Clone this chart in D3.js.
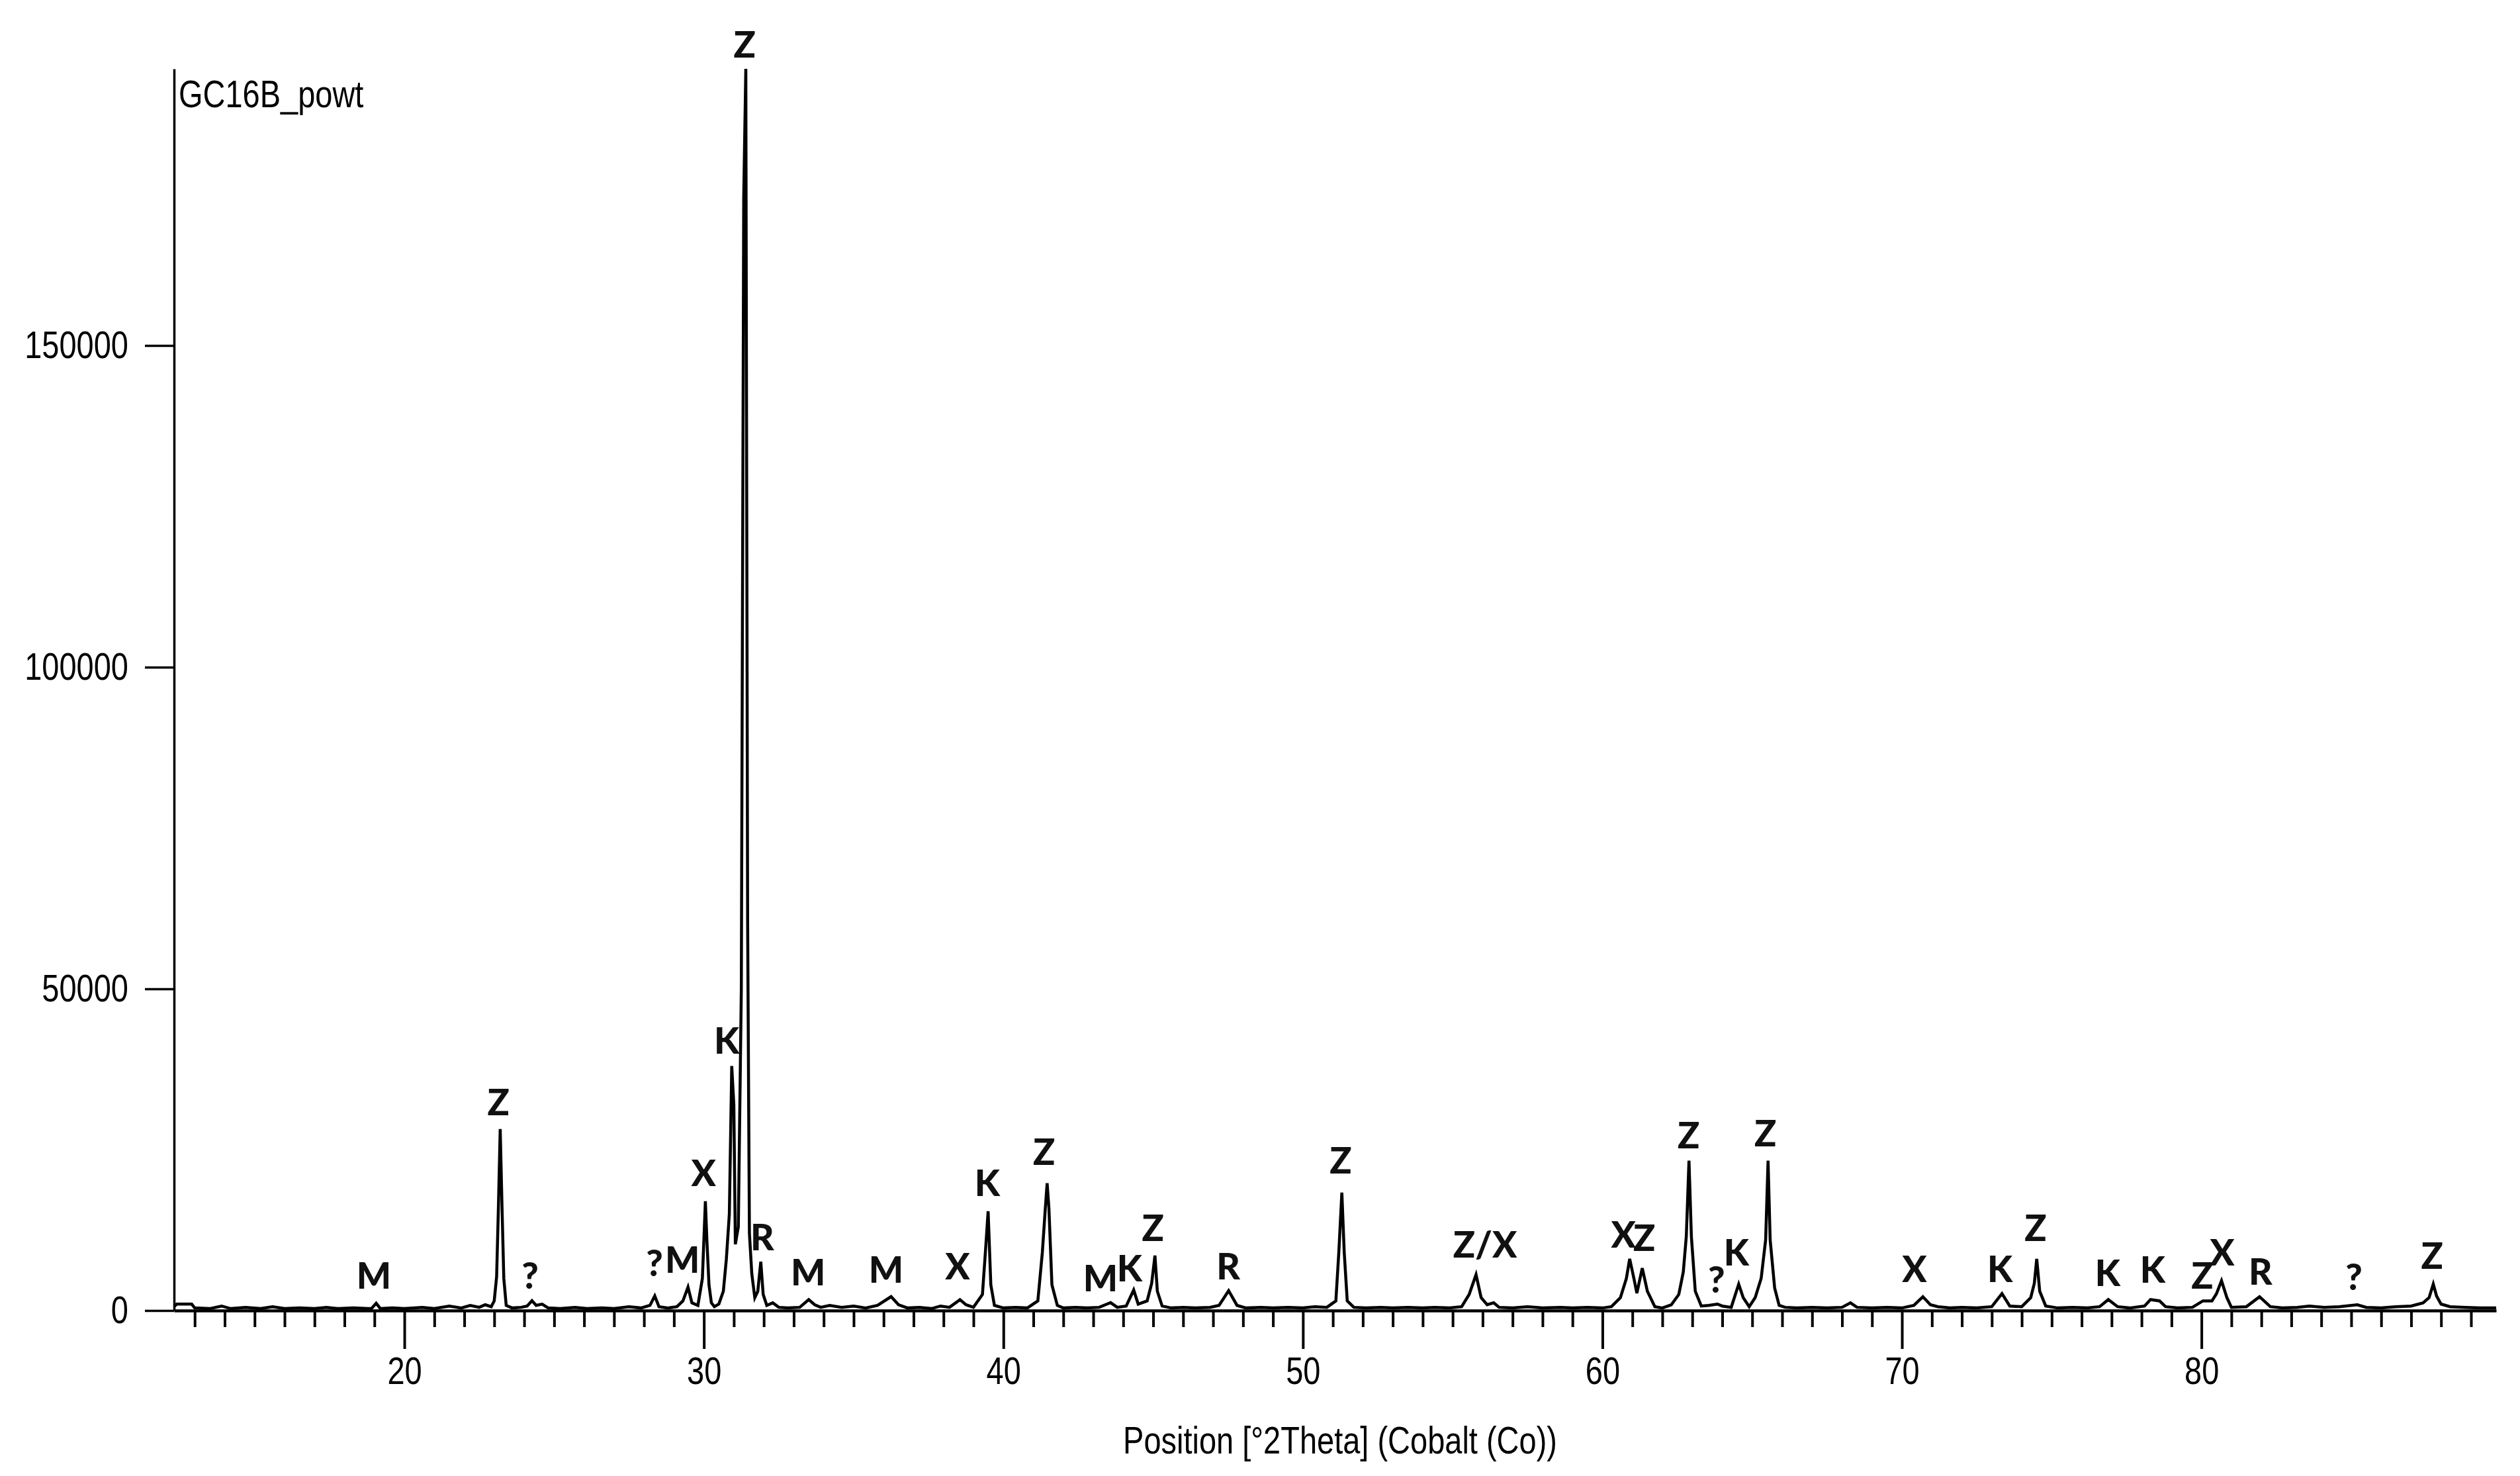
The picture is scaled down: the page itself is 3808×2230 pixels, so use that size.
<!DOCTYPE html>
<html>
<head>
<meta charset="utf-8">
<script src="https://cdn.jsdelivr.net/npm/d3@7"></script>
<style>
  html, body { margin: 0; padding: 0; background: #fff; }
  svg { display: block; }
  .tick text, .lbl-narrow { font-family: "Liberation Sans Narrow", "Arial Narrow", "Liberation Sans", sans-serif; }
</style>
</head>
<body>
<script>
// ---------- DATA ----------
const sampleName = "GC16B_powt";
const xTitle = "Position [°2Theta] (Cobalt (Co))";

const twoTheta = [
  12.31, 12.4, 12.9, 13.0, 13.5, 13.9, 14.2, 14.7, 15.2, 15.6, 16.0, 16.5, 17.0, 17.4, 17.8, 18.3, 18.8, 18.9, 19.06, 19.2,
  19.6, 20.0, 20.6, 21.0, 21.5, 21.9, 22.2, 22.5, 22.7, 22.9, 23.0, 23.08, 23.14, 23.2, 23.26, 23.32, 23.4, 23.6, 23.9, 24.1,
  24.26, 24.4, 24.6, 24.8, 25.2, 25.7, 26.1, 26.6, 27.0, 27.5, 27.9, 28.2, 28.36, 28.5, 28.8, 29.1, 29.3, 29.47, 29.6, 29.8,
  29.95, 30.0, 30.05, 30.1, 30.17, 30.25, 30.35, 30.5, 30.65, 30.75, 30.85, 30.93, 31.0, 31.05, 31.15, 31.25, 31.33, 31.4, 31.46, 31.52,
  31.6, 31.7, 31.8, 31.9, 31.98, 32.1, 32.3, 32.5, 32.8, 33.2, 33.5, 33.7, 33.9, 34.2, 34.6, 35.0, 35.4, 35.8, 36.25, 36.5,
  36.8, 37.2, 37.6, 37.9, 38.2, 38.55, 38.75, 39.0, 39.3, 39.4, 39.49, 39.58, 39.7, 40.0, 40.4, 40.8, 41.15, 41.3, 41.4, 41.46,
  41.52, 41.62, 41.8, 42.0, 42.4, 42.8, 43.2, 43.58, 43.8, 44.1, 44.35, 44.5, 44.8, 44.95, 45.06, 45.14, 45.3, 45.6, 46.0, 46.4,
  46.9, 47.2, 47.52, 47.8, 48.1, 48.6, 49.0, 49.5, 50.0, 50.4, 50.8, 51.1, 51.2, 51.3, 51.38, 51.48, 51.7, 52.1, 52.6, 53.0,
  53.5, 54.0, 54.4, 54.9, 55.3, 55.55, 55.78, 55.95, 56.15, 56.37, 56.55, 57.0, 57.5, 58.0, 58.6, 59.0, 59.5, 60.0, 60.3, 60.6,
  60.8, 60.91, 61.05, 61.15, 61.33, 61.5, 61.75, 62.0, 62.3, 62.55, 62.7, 62.8, 62.89, 62.97, 63.1, 63.3, 63.55, 63.84, 64.0, 64.3,
  64.55, 64.7, 64.9, 65.1, 65.3, 65.45, 65.53, 65.6, 65.75, 65.9, 66.1, 66.5, 67.0, 67.5, 68.0, 68.28, 68.5, 69.0, 69.5, 70.0,
  70.4, 70.7, 70.95, 71.2, 71.6, 72.0, 72.5, 73.0, 73.34, 73.6, 74.0, 74.3, 74.42, 74.5, 74.6, 74.8, 75.2, 75.7, 76.2, 76.6,
  76.89, 77.2, 77.6, 78.1, 78.3, 78.6, 78.8, 79.2, 79.7, 80.05, 80.35, 80.5, 80.67, 80.85, 81.0, 81.5, 81.94, 82.3, 82.7, 83.2,
  83.6, 84.1, 84.6, 85.2, 85.5, 86.0, 86.5, 87.0, 87.4, 87.6, 87.74, 87.85, 88.0, 88.3, 88.8, 89.3, 89.84
];

const counts = [
  600, 1000, 1000, 400, 300, 700, 300, 500, 300, 600, 300, 400, 300, 500, 300, 400, 300, 300, 1130, 300,
  400, 300, 500, 300, 700, 400, 800, 500, 900, 600, 1500, 5250, 16100, 28200, 16100, 5000, 800, 400, 500, 700,
  1540, 800, 1000, 400, 300, 500, 300, 400, 300, 600, 400, 800, 2260, 600, 400, 600, 1500, 3640, 1200, 800,
  5000, 11000, 17000, 11000, 4000, 1200, 600, 1000, 3000, 8000, 15000, 38000, 32000, 10300, 13000, 50000, 173000, 193000, 61000, 12000,
  5700, 2000, 3000, 7600, 2500, 800, 1200, 500, 400, 500, 1690, 900, 500, 800, 500, 700, 400, 800, 2160, 900,
  400, 500, 300, 700, 500, 1690, 900, 500, 2500, 9150, 15430, 4000, 800, 400, 500, 400, 1500, 9000, 15900, 19800,
  15900, 4000, 800, 400, 500, 400, 500, 1230, 500, 700, 3190, 1000, 1500, 4220, 8540, 3000, 700, 400, 500, 400,
  500, 800, 3090, 800, 400, 500, 400, 500, 400, 600, 500, 1500, 9150, 18330, 9000, 1500, 500, 400, 500, 400,
  500, 400, 500, 400, 600, 2500, 5590, 2000, 900, 1200, 500, 400, 600, 400, 500, 400, 500, 400, 600, 2000,
  5000, 8040, 5000, 2700, 6580, 3000, 600, 400, 900, 2500, 6000, 11500, 23290, 11500, 3000, 700, 800, 1000, 700, 500,
  4100, 2000, 600, 2000, 5000, 11000, 23290, 11000, 3500, 800, 500, 400, 500, 400, 500, 1200, 500, 400, 500, 400,
  800, 2150, 900, 600, 400, 500, 400, 600, 2640, 700, 600, 2000, 4220, 8040, 3000, 700, 400, 500, 400, 600,
  1700, 600, 400, 700, 1700, 1500, 600, 400, 500, 1500, 1500, 2600, 4630, 2000, 500, 600, 2150, 600, 400, 500,
  700, 500, 600, 900, 500, 400, 600, 700, 1200, 2000, 4110, 2260, 1000, 600, 500, 400, 400
];

// Phase labels: text, 2θ position, intensity level of the label centre
const labelText = ["M","Z","?","?","M","X","K","Z","R","M","M","X","K","Z","M","K","Z","R","Z","Z/X",
                   "X","Z","Z","?","K","Z","X","K","Z","K","K","Z","X","R","?","Z"];
const labelTheta = [18.98, 23.14, 24.20, 28.35, 29.28, 29.99, 30.76, 31.36, 31.95, 33.48, 36.08, 38.47, 39.46, 41.36, 43.24, 44.21, 44.99, 47.51, 51.26, 56.08,
                    60.70, 61.40, 62.88, 63.81, 64.47, 65.44, 70.42, 73.27, 74.46, 76.87, 78.37, 80.03, 80.69, 81.97, 85.09, 87.70];
const labelCounts = [5560, 32510, 5560, 7510, 8020, 21500, 42080, 196900, 11520, 6070, 6480, 7000, 19960, 24790, 5140, 6690, 12960, 7000, 23460, 10390,
                     11930, 11420, 27370, 4940, 9160, 27670, 6580, 6580, 12960, 5970, 6480, 5560, 9160, 6170, 5350, 8640];

const yTickValues = [0, 50000, 100000, 150000];
const xMajorTicks = [20, 30, 40, 50, 60, 70, 80];
const xMinorTicks = [13,14,15,16,17,18,19,21,22,23,24,25,26,27,28,29,31,32,33,34,35,36,37,38,39,
                     41,42,43,44,45,46,47,48,49,51,52,53,54,55,56,57,58,59,61,62,63,64,65,66,67,68,69,
                     71,72,73,74,75,76,77,78,79,81,82,83,84,85,86,87,88,89];
const xDomain = [12.31, 89.84];
const yDomain = [0, 193000];

// ---------- CHART ----------
(function () {
const W = 3808, H = 2230;
const mLeft = 263, mRight = 3772, mTop = 104, mBottom = 1980;
const narrow = 0.81; // horizontal compression of the narrow axis font

const svg = d3.select("body").append("svg")
  .attr("width", W).attr("height", H)
  .style("background", "#fff");

const x = d3.scaleLinear().domain(xDomain).range([mLeft, mRight]);
const y = d3.scaleLinear().domain(yDomain).range([mBottom, mTop]);

function condense(sel) {
  sel.each(function () {
    const w = this.getComputedTextLength();
    d3.select(this).attr("textLength", w * narrow).attr("lengthAdjust", "spacingAndGlyphs");
  });
}

// Pattern line
const pts = twoTheta.map((t, i) => [t, counts[i]]);
svg.append("path")
  .datum(pts)
  .attr("fill", "none")
  .attr("stroke", "#000")
  .attr("stroke-width", 4.5)
  .attr("stroke-linejoin", "miter")
  .attr("d", d3.line().x(d => x(d[0])).y(d => y(d[1])));

// X axis minor ticks
const gMinor = svg.append("g").attr("transform", `translate(0,${mBottom})`)
  .call(d3.axisBottom(x).tickValues(xMinorTicks).tickSize(25).tickSizeOuter(0).tickFormat(""));
gMinor.select(".domain").remove();
gMinor.selectAll(".tick line").attr("stroke", "#000").attr("stroke-width", 4);

// X axis major ticks + labels
const gx = svg.append("g").attr("transform", `translate(0,${mBottom})`)
  .call(d3.axisBottom(x).tickValues(xMajorTicks).tickSize(58).tickSizeOuter(0).tickPadding(12).tickFormat(d3.format("d")));
gx.select(".domain").attr("stroke", "#000").attr("stroke-width", 4.5);
gx.selectAll(".tick line").attr("stroke", "#000").attr("stroke-width", 4);
gx.selectAll(".tick text").attr("font-size", 58).attr("fill", "#000").call(condense);

// Y axis
const gy = svg.append("g").attr("transform", `translate(${mLeft},0)`)
  .call(d3.axisLeft(y).tickValues(yTickValues).tickSize(44).tickSizeOuter(0).tickPadding(25).tickFormat(d3.format("d")));
gy.select(".domain").attr("stroke", "#000").attr("stroke-width", 3.5);
gy.selectAll(".tick line").attr("stroke", "#000").attr("stroke-width", 3.5);
gy.selectAll(".tick text").attr("font-size", 58).attr("fill", "#000").call(condense);

// Sample name
svg.append("text")
  .attr("class", "lbl-narrow")
  .attr("x", mLeft + 7).attr("y", 162)
  .attr("font-size", 58).attr("fill", "#000")
  .text(sampleName)
  .call(condense);

// X axis title
svg.append("text")
  .attr("class", "lbl-narrow")
  .attr("x", 2025).attr("y", 2196)
  .attr("text-anchor", "middle")
  .attr("font-size", 58).attr("fill", "#000")
  .text(xTitle)
  .call(condense);

// Phase labels
svg.append("g").selectAll("text")
  .data(labelText)
  .join("text")
  .attr("x", (d, i) => x(labelTheta[i]))
  .attr("y", (d, i) => y(labelCounts[i]))
  .attr("text-anchor", "middle")
  .attr("dominant-baseline", "central")
  .attr("font-family", "Lato, 'Noto Sans', sans-serif")
  .attr("font-weight", 900)
  .attr("font-size", 55)
  .attr("fill", "#111")
  .text(d => d);
})();
</script>
</body>
</html>
